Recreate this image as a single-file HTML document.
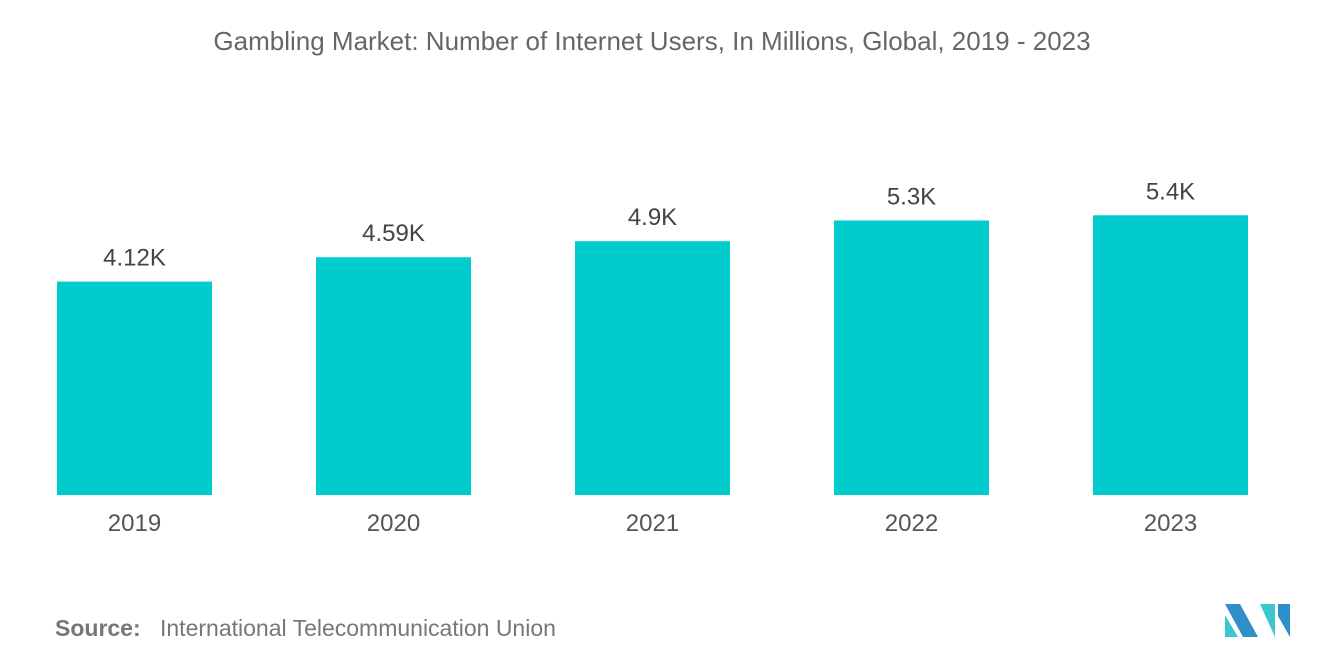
<!DOCTYPE html>
<html><head><meta charset="utf-8"><style>
body{margin:0;width:1320px;height:665px;background:#fff;font-family:"Liberation Sans",sans-serif;overflow:hidden}
</style></head><body>
<svg id="chart" width="1320" height="665" xmlns="http://www.w3.org/2000/svg">
<text x="652" y="50" text-anchor="middle" font-size="26" fill="#666">Gambling Market: Number of Internet Users, In Millions, Global, 2019 - 2023</text>
<g id="bars"></g>
<text x="55" y="636" font-size="23" fill="#777" font-weight="bold">Source:</text>
<text x="160" y="636" font-size="23" fill="#777">International Telecommunication Union</text>
<g>
<polygon points="1225,604 1240,604 1258,637 1243,637" fill="#2e8fc9"/>
<polygon points="1225,615 1238,637 1225,637" fill="#3cc7cf"/>
<polygon points="1260,604 1275,604 1275,637" fill="#3cc7cf"/>
<polygon points="1278,604 1290,604 1290,637 1278,616" fill="#2e8fc9"/>
</g>
</svg>
<script>
const categories=["2019","2020","2021","2022","2023"];
const values=[4.12,4.59,4.9,5.3,5.4];
const valueLabels=["4.12K","4.59K","4.9K","5.3K","5.4K"];
const NS="http://www.w3.org/2000/svg";
const g=document.getElementById("bars");
const base=495, scale=51.8, x0=57, step=259, bw=155;
function y(v){return base-v*scale;}
function x(i){return x0+i*step;}
values.forEach((v,i)=>{
  const r=document.createElementNS(NS,"rect");
  
  
  r.setAttribute("x",x(i));r.setAttribute("y",y(v));r.setAttribute("width",bw);r.setAttribute("height",base-y(v));r.setAttribute("fill","#00cccd");
  g.appendChild(r);
  const t=document.createElementNS(NS,"text");
  
  
  t.setAttribute("x",x(i)+bw/2);t.setAttribute("y",y(v)-16);t.setAttribute("text-anchor","middle");t.setAttribute("font-size","24");t.setAttribute("fill","#444");
  t.textContent=valueLabels[i];g.appendChild(t);
  const c=document.createElementNS(NS,"text");
  
  
  c.setAttribute("x",x(i)+bw/2);c.setAttribute("y",531);c.setAttribute("text-anchor","middle");c.setAttribute("font-size","24");c.setAttribute("fill","#555");
  c.textContent=categories[i];g.appendChild(c);
});
</script>
</body></html>
